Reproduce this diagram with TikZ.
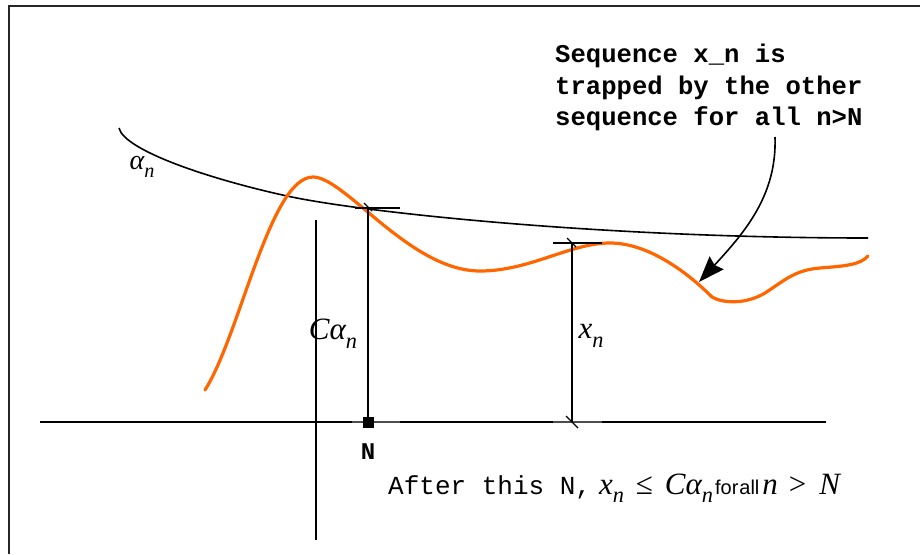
\documentclass[tikz,border=0pt]{standalone}
\usepackage{fontspec}
\setmainfont{Liberation Serif}
\newfontfamily\monofam{Liberation Mono}
\newfontfamily\arialfam{Liberation Sans}
\definecolor{curveorange}{RGB}{255,102,0}
\newcommand\mysub[1]{\raisebox{-0.28em}{\scalebox{0.72}{#1}}}
\usetikzlibrary{arrows.meta}
\tikzset{
  frameline/.style={line width=2pt, black!85},
  axisline/.style={line width=1.6pt, black},
  graycap/.style={line width=2pt, black!70},
  orangecurve/.style={line width=3.2pt, curveorange, line cap=round, line join=round},
  mathlabel/.style={font=\fontsize{31}{34}\selectfont\itshape, inner sep=0pt},
  notetext/.style={font=\monofam\bfseries\fontsize{25.6}{30}\selectfont, anchor=base west, inner sep=0pt},
}
\begin{document}
\begin{tikzpicture}[x=1pt,y=-1pt]
\useasboundingbox (0,0) rectangle (920,554);
% frame (top and left only visible)
\draw[frameline] (9,554) -- (9,6) -- (920,6);

% axes
\coordinate (hL) at (40,422);
\coordinate (hR) at (826,422);
\coordinate (vT) at (316,220);
\coordinate (vB) at (316,540);
\draw[axisline] (hL) -- (hR);
\draw[axisline] (vT) -- (vB);

% alpha_n curve
\draw[axisline] (119,128) .. controls (124,150) and (207,178.5) .. (287,196)
  .. controls (360,212) and (600,238) .. (868,238);

% orange sequence x_n
\draw[orangecurve] (205,390) .. controls (240,335) and (270,177) .. (313,177)
  .. controls (345,177) and (410,271) .. (480,271)
  .. controls (530,271) and (570,243) .. (610,243)
  .. controls (650,243) and (690,275) .. (712,297)
  .. controls (722,303) and (745,305) .. (765,293)
  .. controls (785,280) and (795,270) .. (820,268)
  .. controls (845,266) and (860,265) .. (868,256);

% N marker line
\coordinate (Ntop) at (368,208);
\coordinate (Nbot) at (368,422);
\draw[graycap] (352,422) -- (400,422);
\draw[axisline] (Ntop) -- (Nbot);
\draw[axisline] (355,208) -- (400,208);
\draw[line width=1.2pt] (364,203) -- (372,211);
\node[fill=black, minimum size=11pt, inner sep=0pt] (Nsq) at (Nbot) {};

% x_n marker line
\coordinate (xtop) at (572,243);
\coordinate (xbot) at (572,422);
\draw[graycap] (553,422) -- (602,422);
\draw[axisline] (xtop) -- (xbot);
\draw[axisline] (553,243) -- (602,243);
\draw[line width=1.2pt] (567,238) -- (576,247);
\draw[line width=1.2pt] (566,416) -- (578,428);

% labels
\node[mathlabel, font=\fontsize{28}{30}\selectfont\itshape] (alab) at (142,167) {α\mysub{n}};
\node[mathlabel] (calab) at (333,334) {Cα\mysub{n}};
\node[mathlabel] (xlab) at (591,336) {x\mysub{n}};
\node[font=\monofam\bfseries\fontsize{24}{28}\selectfont, inner sep=0pt] (Nlab) at (368,452) {N};

\node[anchor=base west, inner sep=0pt] (after) at (388,494)
  {{\monofam\fontsize{26}{30}\selectfont After this N,}\hspace{8pt}{\fontsize{31}{34}\selectfont\itshape x\mysub{n}\hspace{12pt}{\upshape ≤}\hspace{12pt}Cα\mysub{n}}{\arialfam\fontsize{20}{24}\selectfont\hspace{2pt}for\hspace{1pt}all}{\fontsize{31}{34}\selectfont\itshape\hspace{3pt}n\hspace{11pt}{\upshape >}\hspace{13pt}N}};

% annotation
\node[notetext] (note1) at (555,62) {Sequence x\_n is};
\node[notetext] (note2) at (555,94) {trapped by the other};
\node[notetext] (note3) at (555,125) {sequence for all n>N};

\coordinate (arrstart) at (775,137);
\coordinate (arrtip) at (699,282);
\draw[line width=1.6pt, -{Stealth[length=26pt,width=19pt,inset=3pt]}] (arrstart) .. controls (777,195) and (745,232) .. (arrtip);
\end{tikzpicture}
\end{document}
